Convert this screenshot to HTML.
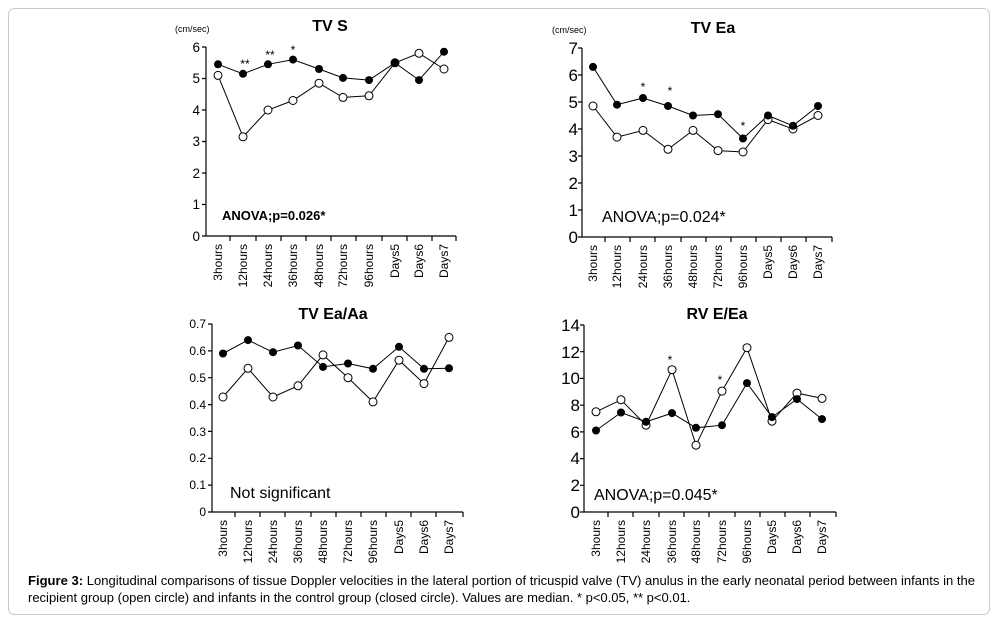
<!DOCTYPE html>
<html><head><meta charset="utf-8"><style>
html,body{margin:0;padding:0;background:#fff}
svg{display:block}
text{font-family:"Liberation Sans",Arial,sans-serif;fill:#000}
</style></head><body>
<svg width="998" height="624" viewBox="0 0 998 624" xmlns="http://www.w3.org/2000/svg">
<rect x="8.5" y="8.5" width="981" height="606" rx="6" fill="#fff" stroke="#c8c8c8"/>

<!-- Chart 1 TV S -->
<g stroke="#000" stroke-width="1.2" fill="none">
<path d="M206 47V236H456"/>
<path d="M202 47H206M202 78.5H206M202 110H206M202 141.5H206M202 173H206M202 204.5H206M202 236H206"/>
<path d="M230 236v5M256 236v5M281 236v5M306 236v5M331 236v5M356 236v5M382 236v5M407 236v5M432 236v5M456 236v5"/>
<polyline points="218,64.3 243,73.8 268,64.3 293,59.6 319,69 343,77.9 369,80.1 395,62.8 419,80.1 444,51.7" stroke-width="1"/>
<polyline points="218,75.4 243,136.8 268,110 293,100.5 319,83.2 343,97.4 369,95.8 395,62.8 419,53.3 444,69" stroke-width="1"/>
</g>
<g fill="#fff" stroke="#000" stroke-width="1">
<circle cx="218" cy="75.4" r="4"/><circle cx="243" cy="136.8" r="4"/><circle cx="268" cy="110" r="4"/><circle cx="293" cy="100.5" r="4"/><circle cx="319" cy="83.2" r="4"/><circle cx="343" cy="97.4" r="4"/><circle cx="369" cy="95.8" r="4"/><circle cx="395" cy="62.8" r="4"/><circle cx="419" cy="53.3" r="4"/><circle cx="444" cy="69" r="4"/>
</g>
<g fill="#000">
<circle cx="218" cy="64.3" r="4"/><circle cx="243" cy="73.8" r="4"/><circle cx="268" cy="64.3" r="4"/><circle cx="293" cy="59.6" r="4"/><circle cx="319" cy="69" r="4"/><circle cx="343" cy="77.9" r="4"/><circle cx="369" cy="80.1" r="4"/><circle cx="395" cy="62.8" r="4"/><circle cx="419" cy="80.1" r="4"/><circle cx="444" cy="51.7" r="4"/>
</g>
<g font-size="13.5" text-anchor="end">
<text x="200" y="52">6</text><text x="200" y="83">5</text><text x="200" y="115">4</text><text x="200" y="146">3</text><text x="200" y="178">2</text><text x="200" y="209">1</text><text x="200" y="241">0</text>
</g>
<text x="175" y="32" font-size="9">(cm/sec)</text>
<text x="330" y="31" font-size="16" font-weight="bold" text-anchor="middle">TV S</text>
<text x="222" y="220" font-size="13" font-weight="bold">ANOVA;p=0.026*</text>
<g font-size="12" text-anchor="middle"><text x="245" y="68">**</text><text x="270" y="59">**</text><text x="293" y="54">*</text></g>
<g font-size="12" text-anchor="end">
<text transform="translate(222,244) rotate(-90)">3hours</text>
<text transform="translate(247,244) rotate(-90)">12hours</text>
<text transform="translate(272,244) rotate(-90)">24hours</text>
<text transform="translate(297,244) rotate(-90)">36hours</text>
<text transform="translate(323,244) rotate(-90)">48hours</text>
<text transform="translate(347,244) rotate(-90)">72hours</text>
<text transform="translate(373,244) rotate(-90)">96hours</text>
<text transform="translate(399,244) rotate(-90)">Days5</text>
<text transform="translate(423,244) rotate(-90)">Days6</text>
<text transform="translate(448,244) rotate(-90)">Days7</text>
</g>

<!-- Chart 2 TV Ea -->
<g stroke="#000" stroke-width="1.2" fill="none">
<path d="M582 48V237H832"/>
<path d="M578 48H582M578 75H582M578 102H582M578 129H582M578 156H582M578 183H582M578 210H582M578 237H582"/>
<path d="M605 237v5M630 237v5M655 237v5M681 237v5M706 237v5M731 237v5M756 237v5M781 237v5M806 237v5M832 237v5"/>
<polyline points="593,66.9 617,104.7 643,98 668,106 693,115.5 718,114.2 743,138.5 768,115.5 793,125.8 818,106" stroke-width="1"/>
<polyline points="593,106 617,137.1 643,130.4 668,149.3 693,130.4 718,150.6 743,152 768,119.6 793,129 818,115.5" stroke-width="1"/>
</g>
<g fill="#fff" stroke="#000" stroke-width="1">
<circle cx="593" cy="106" r="4"/><circle cx="617" cy="137.1" r="4"/><circle cx="643" cy="130.4" r="4"/><circle cx="668" cy="149.3" r="4"/><circle cx="693" cy="130.4" r="4"/><circle cx="718" cy="150.6" r="4"/><circle cx="743" cy="152" r="4"/><circle cx="768" cy="119.6" r="4"/><circle cx="793" cy="129" r="4"/><circle cx="818" cy="115.5" r="4"/>
</g>
<g fill="#000">
<circle cx="593" cy="66.9" r="4"/><circle cx="617" cy="104.7" r="4"/><circle cx="643" cy="98" r="4"/><circle cx="668" cy="106" r="4"/><circle cx="693" cy="115.5" r="4"/><circle cx="718" cy="114.2" r="4"/><circle cx="743" cy="138.5" r="4"/><circle cx="768" cy="115.5" r="4"/><circle cx="793" cy="125.8" r="4"/><circle cx="818" cy="106" r="4"/>
</g>
<g font-size="17" text-anchor="end">
<text x="578" y="54">7</text><text x="578" y="81">6</text><text x="578" y="108">5</text><text x="578" y="135">4</text><text x="578" y="162">3</text><text x="578" y="189">2</text><text x="578" y="216">1</text><text x="578" y="243">0</text>
</g>
<text x="552" y="33" font-size="9">(cm/sec)</text>
<text x="713" y="33" font-size="16" font-weight="bold" text-anchor="middle">TV Ea</text>
<text x="602" y="222" font-size="16">ANOVA;p=0.024*</text>
<g font-size="12" text-anchor="middle"><text x="643" y="91">*</text><text x="670" y="95">*</text><text x="743" y="130">*</text></g>
<g font-size="12" text-anchor="end">
<text transform="translate(597,245) rotate(-90)">3hours</text>
<text transform="translate(621,245) rotate(-90)">12hours</text>
<text transform="translate(647,245) rotate(-90)">24hours</text>
<text transform="translate(672,245) rotate(-90)">36hours</text>
<text transform="translate(697,245) rotate(-90)">48hours</text>
<text transform="translate(722,245) rotate(-90)">72hours</text>
<text transform="translate(747,245) rotate(-90)">96hours</text>
<text transform="translate(772,245) rotate(-90)">Days5</text>
<text transform="translate(797,245) rotate(-90)">Days6</text>
<text transform="translate(822,245) rotate(-90)">Days7</text>
</g>

<!-- Chart 3 TV Ea/Aa -->
<g stroke="#000" stroke-width="1.2" fill="none">
<path d="M212 324V512H463"/>
<path d="M208 324H212M208 350.9H212M208 377.7H212M208 404.6H212M208 431.4H212M208 458.3H212M208 485.1H212M208 512H212"/>
<path d="M235 512v5M260 512v5M285 512v5M311 512v5M336 512v5M361 512v5M386 512v5M411 512v5M436 512v5M463 512v5"/>
<polyline points="223,353.5 248,340.1 273,352.2 298,345.5 323,366.9 348,363.5 373,368.8 399,346.8 424,368.8 449,368.3" stroke-width="1"/>
<polyline points="223,397 248,368.3 273,397 298,385.8 323,354.9 348,377.7 373,401.9 399,360.2 424,383.6 449,337.4" stroke-width="1"/>
</g>
<g fill="#fff" stroke="#000" stroke-width="1">
<circle cx="223" cy="397" r="4"/><circle cx="248" cy="368.3" r="4"/><circle cx="273" cy="397" r="4"/><circle cx="298" cy="385.8" r="4"/><circle cx="323" cy="354.9" r="4"/><circle cx="348" cy="377.7" r="4"/><circle cx="373" cy="401.9" r="4"/><circle cx="399" cy="360.2" r="4"/><circle cx="424" cy="383.6" r="4"/><circle cx="449" cy="337.4" r="4"/>
</g>
<g fill="#000">
<circle cx="223" cy="353.5" r="4"/><circle cx="248" cy="340.1" r="4"/><circle cx="273" cy="352.2" r="4"/><circle cx="298" cy="345.5" r="4"/><circle cx="323" cy="366.9" r="4"/><circle cx="348" cy="363.5" r="4"/><circle cx="373" cy="368.8" r="4"/><circle cx="399" cy="346.8" r="4"/><circle cx="424" cy="368.8" r="4"/><circle cx="449" cy="368.3" r="4"/>
</g>
<g font-size="12" text-anchor="end">
<text x="206" y="328">0.7</text><text x="206" y="355">0.6</text><text x="206" y="382">0.5</text><text x="206" y="409">0.4</text><text x="206" y="436">0.3</text><text x="206" y="462">0.2</text><text x="206" y="489">0.1</text><text x="206" y="516">0</text>
</g>
<text x="333" y="319" font-size="16" font-weight="bold" text-anchor="middle">TV Ea/Aa</text>
<text x="230" y="498" font-size="16">Not significant</text>
<g font-size="12" text-anchor="end">
<text transform="translate(227,520) rotate(-90)">3hours</text>
<text transform="translate(252,520) rotate(-90)">12hours</text>
<text transform="translate(277,520) rotate(-90)">24hours</text>
<text transform="translate(302,520) rotate(-90)">36hours</text>
<text transform="translate(327,520) rotate(-90)">48hours</text>
<text transform="translate(352,520) rotate(-90)">72hours</text>
<text transform="translate(377,520) rotate(-90)">96hours</text>
<text transform="translate(403,520) rotate(-90)">Days5</text>
<text transform="translate(428,520) rotate(-90)">Days6</text>
<text transform="translate(453,520) rotate(-90)">Days7</text>
</g>

<!-- Chart 4 RV E/Ea -->
<g stroke="#000" stroke-width="1.2" fill="none">
<path d="M584 325V512H836"/>
<path d="M580 325H584M580 351.7H584M580 378.4H584M580 405.2H584M580 431.9H584M580 458.6H584M580 485.3H584M580 512H584"/>
<path d="M608 512v5M633 512v5M659 512v5M684 512v5M709 512v5M735 512v5M760 512v5M785 512v5M810 512v5M836 512v5"/>
<polyline points="596,430.5 621,412.5 646,421.8 672,413.1 696,427.8 722,425.2 747,383.1 772,417.1 797,399.1 822,419.1" stroke-width="1"/>
<polyline points="596,411.8 621,399.8 646,425.2 672,369.7 696,445.2 722,391.1 747,347.7 772,421.2 797,393.1 822,398.4" stroke-width="1"/>
</g>
<g fill="#fff" stroke="#000" stroke-width="1">
<circle cx="596" cy="411.8" r="4"/><circle cx="621" cy="399.8" r="4"/><circle cx="646" cy="425.2" r="4"/><circle cx="672" cy="369.7" r="4"/><circle cx="696" cy="445.2" r="4"/><circle cx="722" cy="391.1" r="4"/><circle cx="747" cy="347.7" r="4"/><circle cx="772" cy="421.2" r="4"/><circle cx="797" cy="393.1" r="4"/><circle cx="822" cy="398.4" r="4"/>
</g>
<g fill="#000">
<circle cx="596" cy="430.5" r="4"/><circle cx="621" cy="412.5" r="4"/><circle cx="646" cy="421.8" r="4"/><circle cx="672" cy="413.1" r="4"/><circle cx="696" cy="427.8" r="4"/><circle cx="722" cy="425.2" r="4"/><circle cx="747" cy="383.1" r="4"/><circle cx="772" cy="417.1" r="4"/><circle cx="797" cy="399.1" r="4"/><circle cx="822" cy="419.1" r="4"/>
</g>
<g font-size="17" text-anchor="end">
<text x="580" y="331">14</text><text x="580" y="358">12</text><text x="580" y="384">10</text><text x="580" y="411">8</text><text x="580" y="438">6</text><text x="580" y="464">4</text><text x="580" y="491">2</text><text x="580" y="518">0</text>
</g>
<text x="717" y="319" font-size="16" font-weight="bold" text-anchor="middle">RV E/Ea</text>
<text x="594" y="500" font-size="16">ANOVA;p=0.045*</text>
<g font-size="12" text-anchor="middle"><text x="670" y="364">*</text><text x="720" y="384">*</text></g>
<g font-size="12" text-anchor="end">
<text transform="translate(600,520) rotate(-90)">3hours</text>
<text transform="translate(625,520) rotate(-90)">12hours</text>
<text transform="translate(650,520) rotate(-90)">24hours</text>
<text transform="translate(676,520) rotate(-90)">36hours</text>
<text transform="translate(700,520) rotate(-90)">48hours</text>
<text transform="translate(726,520) rotate(-90)">72hours</text>
<text transform="translate(751,520) rotate(-90)">96hours</text>
<text transform="translate(776,520) rotate(-90)">Days5</text>
<text transform="translate(801,520) rotate(-90)">Days6</text>
<text transform="translate(826,520) rotate(-90)">Days7</text>
</g>

<!-- Caption -->
<text x="28" y="585" font-size="13" textLength="947" lengthAdjust="spacingAndGlyphs"><tspan font-weight="bold">Figure 3:</tspan> Longitudinal comparisons of tissue Doppler velocities in the lateral portion of tricuspid valve (TV) anulus in the early neonatal period between infants in the</text>
<text x="28" y="602" font-size="13">recipient group (open circle) and infants in the control group (closed circle). Values are median. * p&lt;0.05, ** p&lt;0.01.</text>
</svg>
</body></html>
